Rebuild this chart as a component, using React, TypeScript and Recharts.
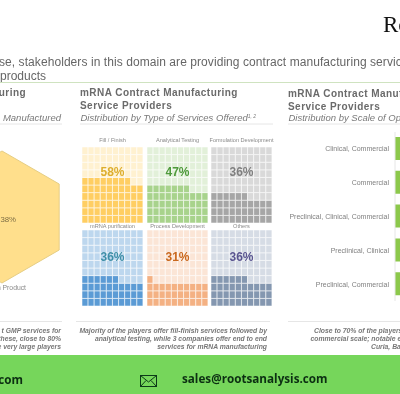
import React from "react";
import { BarChart, Bar, Cell, XAxis, YAxis, RadarChart, Radar, PolarAngleAxis, PolarRadiusAxis } from "recharts";

const FONT = "'Liberation Sans', Arial, sans-serif";

// Left panel: hexagon share
const hexAxes = ["a", "b", "c", "d", "e", "f"];
const hexValue = 38;

// Middle panel: waffles
const waffleLabels = ["Fill / Finish", "Analytical Testing", "Formulation Development", "mRNA purification", "Process Development", "Others"];
const waffleValues = [58, 47, 36, 36, 31, 36];
const waffleFilled = ["#FFCE62", "#A8D38C", "#A6A6A6", "#5B9BD5", "#F4B183", "#8497B0"];
const waffleEmpty = ["#FFF1D0", "#E2F0D9", "#D9D9D9", "#BDD7EE", "#FBE5D6", "#D6DCE5"];
const waffleInk = ["#DDAE2E", "#4F9A3C", "#7F7F7F", "#3F8FA8", "#C9681E", "#5A5590"];
const waffleCols = [0, 1, 2, 3, 4, 5, 6, 7, 8, 9];
const waffleRowKeys = ["r0", "r1", "r2", "r3", "r4", "r5", "r6", "r7", "r8", "r9"];

// Right panel: scale of operation
const scaleLabels = ["Clinical, Commercial", "Commercial", "Preclinical, Clinical, Commercial", "Preclinical, Clinical", "Preclinical, Commercial"];
const scaleValues = [30, 26, 20, 14, 10];

// Texts
const headerLine1 = "mRNA Contract Manufacturing";
const headerLine2 = "Service Providers";
const footerMiddle = [
  "Majority of the players  offer fill-finish services  followed by",
  "analytical testing,  while 3 companies  offer end to end",
  "services  for mRNA manufacturing",
];
const footerLeft = ["t GMP services  for", "these,  close to 80%", "e very large players"];
const footerRight = ["Close to 70% of the players", "commercial scale;  notable e", "Curia, Ba"];

const waffleLeft = [82, 147, 211, 82, 147, 211];
const waffleTop = [147, 147, 147, 230, 230, 230];
const waffleLabelDy = [-5, -5, -5, -2.5, -2.5, -2.5];
const waffleValueDy = [29, 29, 29, 31, 31, 31];

function Waffle({ index }: { index: number }) {
  const value = waffleValues[index];
  const rows = waffleCols.map((c) => {
    const row: Record<string, number | string> = { col: c };
    waffleRowKeys.forEach((k) => (row[k] = 1));
    return row;
  });
  return (
    <div style={{ position: "absolute", left: waffleLeft[index], top: waffleTop[index] }}>
      <BarChart width={61} height={76} data={rows} margin={{ top: 0, right: 0, bottom: 0, left: 0 }} barCategoryGap={0}>
        <XAxis dataKey="col" hide />
        <YAxis hide domain={[0, 10]} />
        {waffleRowKeys.map((k, r) => (
          <Bar key={k} dataKey={k} stackId="w" isAnimationActive={false} stroke="#ffffff" strokeWidth={0.7} strokeOpacity={0.75}>
            {waffleCols.map((c) => (
              <Cell key={c} fill={r * 10 + c < value ? waffleFilled[index] : waffleEmpty[index]} />
            ))}
          </Bar>
        ))}
      </BarChart>
    </div>
  );
}

function ScaleTick(props: any) {
  const { x, y, payload } = props;
  return (
    <text x={x} y={y} dy={2.5} textAnchor="end" fontSize={7} fill="#7f7f7f" fontFamily={FONT}>
      {payload.value}
    </text>
  );
}

export default function App() {
  const hexData = hexAxes.map((a) => ({ a, v: hexValue }));
  const scaleData = scaleLabels.map((name, i) => ({ name, v: scaleValues[i] }));
  const grey = "#7a7a7a";
  const head = "#6a6a6a";
  return (
    <div style={{ position: "absolute", left: 0, top: 0, width: 400, height: 394, overflow: "hidden", background: "#fff", filter: "blur(0.3px)" }}>
      <div style={{ position: "absolute", left: 2 - 80, top: 217 - 80 }}>
        <RadarChart width={160} height={160} data={hexData} outerRadius={66} cx={80} cy={80} margin={{ top: 0, right: 0, bottom: 0, left: 0 }}>
          <PolarAngleAxis dataKey="a" tick={false} axisLine={false} />
          <PolarRadiusAxis domain={[0, hexValue]} tick={false} axisLine={false} />
          <Radar dataKey="v" fill="#FFDF8C" fillOpacity={1} stroke="#E6CE84" strokeWidth={1} isAnimationActive={false} />
        </RadarChart>
      </div>

      {waffleValues.map((_, i) => (
        <Waffle key={i} index={i} />
      ))}

      <div style={{ position: "absolute", left: 270, top: 132 }}>
        <BarChart width={330} height={169} layout="vertical" data={scaleData} margin={{ top: 0, right: 0, bottom: 0, left: 0 }}>
          <XAxis type="number" hide domain={[0, 40]} />
          <YAxis
            type="category"
            dataKey="name"
            width={125}
            interval={0}
            tickLine={false}
            tickMargin={0}
            axisLine={{ stroke: "#e6e6e6" }}
            tick={<ScaleTick />}
          />
          <Bar dataKey="v" fill="#8CC84B" barSize={23} isAnimationActive={false} />
        </BarChart>
      </div>

      <svg width={400} height={394} style={{ position: "absolute", left: 0, top: 0, fontFamily: FONT }}>
        {/* logo */}
        <text x={383} y={32} fontFamily="'Liberation Serif', serif" fontSize={23} fill="#111">Ro</text>

        {/* subtitle */}
        <text x={-1} y={66} fontSize={12} fill="#666" letterSpacing={0.07}>se, stakeholders in this domain are providing contract manufacturing services</text>
        <text x={0} y={80} fontSize={12} fill="#666">products</text>
        <line x1={0} x2={400} y1={82.5} y2={82.5} stroke="#CFE3C0" strokeWidth={1} />

        {/* left header */}
        <text x={26} y={96} textAnchor="end" fontSize={10} fontWeight={700} fill={head} letterSpacing={0.45}>uring</text>
        <text x={61} y={120.5} textAnchor="end" fontSize={9.5} fontStyle="italic" fill={grey}>Manufactured</text>
        <line x1={0} x2={62} y1={124} y2={124} stroke="#e6e6e6" />

        {/* middle header */}
        <text x={80} y={96} fontSize={10} fontWeight={700} fill={head} letterSpacing={0.45}>{headerLine1}</text>
        <text x={80} y={109} fontSize={10} fontWeight={700} fill={head} letterSpacing={0.45}>{headerLine2}</text>
        <text x={80.5} y={120.5} fontSize={9.5} fontStyle="italic" fill={grey}>
          Distribution by Type of Services Offered
          <tspan fontSize={5} dy={-3}>1, 2</tspan>
        </text>
        <line x1={80} x2={273} y1={124} y2={124} stroke="#e6e6e6" />

        {/* right header */}
        <text x={288} y={96.5} fontSize={10} fontWeight={700} fill={head} letterSpacing={0.45}>{headerLine1}</text>
        <text x={288} y={109.5} fontSize={10} fontWeight={700} fill={head} letterSpacing={0.45}>{headerLine2}</text>
        <text x={288.5} y={121} fontSize={9.5} fontStyle="italic" fill={grey}>Distribution by Scale of Operation</text>
        <line x1={288} x2={400} y1={124} y2={124} stroke="#e6e6e6" />

        {/* hexagon labels */}
        <text x={16} y={222} textAnchor="end" fontSize={7.8} fill="#7f6f45">38%</text>
        <text x={26} y={290} textAnchor="end" fontSize={6.8} fill="#8a8a8a">Protein Product</text>

        {/* waffle labels */}
        {waffleLabels.map((l, i) => (
          <text key={l} x={waffleLeft[i] + 30.5} y={waffleTop[i] + waffleLabelDy[i]} textAnchor="middle" fontSize={5.6} fill="#8a8a8a">{l}</text>
        ))}
        {waffleValues.map((v, i) => (
          <text key={i} x={waffleLeft[i] + 30.5} y={waffleTop[i] + waffleValueDy[i]} textAnchor="middle" fontSize={12} fontWeight={700} fill={waffleInk[i]}>{v}%</text>
        ))}

        {/* footer notes */}
        <line x1={0} x2={62} y1={321.5} y2={321.5} stroke="#e6e6e6" />
        <line x1={76} x2={270} y1={321.5} y2={321.5} stroke="#e6e6e6" />
        <line x1={288} x2={400} y1={321.5} y2={321.5} stroke="#e6e6e6" />
        {footerLeft.map((t, i) => (
          <text key={i} x={61} y={332.5 + i * 8.3} textAnchor="end" fontSize={6.8} fontWeight={700} fontStyle="italic" fill="#777">{t}</text>
        ))}
        {footerMiddle.map((t, i) => (
          <text key={i} x={267} y={332.5 + i * 8.3} textAnchor="end" fontSize={6.8} fontWeight={700} fontStyle="italic" fill="#777">{t}</text>
        ))}
        {footerRight.map((t, i) => (
          <text key={i} x={[314, 310.5, 371][i]} y={332.5 + i * 8.3} fontSize={6.8} fontWeight={700} fontStyle="italic" fill="#777">{t}</text>
        ))}

        {/* contact band */}
        <rect x={0} y={355} width={400} height={39} fill="#76D65B" />
        <text x={23} y={384} textAnchor="end" fontFamily="'Open Sans', sans-serif" fontWeight={700} fontSize={11.7} fill="#0c2f12">com</text>
        <g fill="none" stroke="#0c3a18" strokeWidth={1}>
          <rect x={140.5} y={375.5} width={16} height={11} />
          <path d="M140.5 375.5 L148.5 382 L156.5 375.5 M140.5 386.5 L146 380.5 M156.5 386.5 L151 380.5" />
        </g>
        <text x={182} y={383} fontFamily="'Open Sans', sans-serif" fontWeight={700} fontSize={11.7} fill="#0c2f12">sales@rootsanalysis.com</text>
      </svg>
    </div>
  );
}
